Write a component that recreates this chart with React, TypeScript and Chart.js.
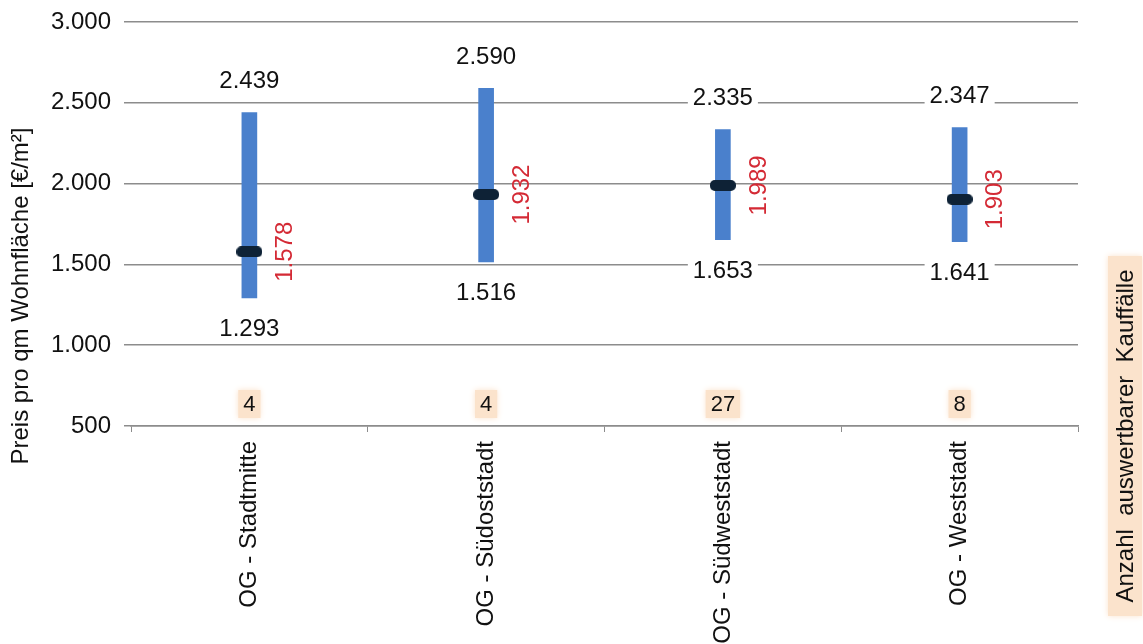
import React, { useEffect, useRef } from "react";
import { Chart, registerables } from "chart.js";

Chart.register(...registerables);

const categories = ["OG - Stadtmitte", "OG - Südoststadt", "OG - Südweststadt", "OG - Weststadt"];
const minValues = [1293, 1516, 1653, 1641];
const maxValues = [2439, 2590, 2335, 2347];
const medianValues = [1578, 1932, 1989, 1903];
const counts = [4, 4, 27, 8];
const yMin = 500;
const yMax = 3000;
const yStep = 500;
const yTitle = "Preis pro qm Wohnfläche [€/m²]";
const rightTitle = "Anzahl  auswertbarer  Kauffälle";

const FONT = "'Liberation Sans', Arial, sans-serif";
const FS = 24;
const BAR_COLOR = "#4a80cc";
const MEDIAN_COLOR = "#0e2236";
const RED = "#d42a35";
const PEACH = "#fbe3cc";
const GRID = "#8c8c8c";

function fmt(n: number): string {
  const s = String(Math.round(n));
  if (s.length <= 3) return s;
  return s.slice(0, s.length - 3) + "." + s.slice(s.length - 3);
}

function makeMarker(): HTMLCanvasElement {
  const c = document.createElement("canvas");
  c.width = 26;
  c.height = 11;
  const ctx = c.getContext("2d")!;
  ctx.fillStyle = MEDIAN_COLOR;
  const r = 5;
  ctx.beginPath();
  ctx.moveTo(r, 0);
  ctx.lineTo(26 - r, 0);
  ctx.arcTo(26, 0, 26, r, r);
  ctx.lineTo(26, 11 - r);
  ctx.arcTo(26, 11, 26 - r, 11, r);
  ctx.lineTo(r, 11);
  ctx.arcTo(0, 11, 0, 11 - r, r);
  ctx.lineTo(0, r);
  ctx.arcTo(0, 0, r, 0, r);
  ctx.closePath();
  ctx.fill();
  return c;
}

const labelsPlugin = {
  id: "customLabels",
  afterDatasetsDraw(chart: any) {
    const ctx = chart.ctx as CanvasRenderingContext2D;
    const x = chart.scales.x;
    const y = chart.scales.y;
    const area = chart.chartArea;
    ctx.save();
    ctx.font = `${FS}px ${FONT}`;
    ctx.textAlign = "center";
    ctx.textBaseline = "middle";
    categories.forEach((_, i) => {
      const cx = x.getPixelForValue(i);
      // max label
      const topY = y.getPixelForValue(maxValues[i]) - 32;
      const tMax = fmt(maxValues[i]);
      let w = ctx.measureText(tMax).width;
      ctx.fillStyle = "#ffffff";
      ctx.fillRect(cx - w / 2 - 5, topY - 13, w + 10, 26);
      ctx.fillStyle = "#111111";
      ctx.fillText(tMax, cx, topY + 1);
      // min label
      const botY = y.getPixelForValue(minValues[i]) + 31;
      const tMin = fmt(minValues[i]);
      w = ctx.measureText(tMin).width;
      ctx.fillStyle = "#ffffff";
      ctx.fillRect(cx - w / 2 - 5, botY - 13, w + 10, 26);
      ctx.fillStyle = "#111111";
      ctx.fillText(tMin, cx, botY + 1);
      // median label rotated
      const my = y.getPixelForValue(medianValues[i]);
      ctx.save();
      ctx.translate(cx + 36, my);
      ctx.rotate(-Math.PI / 2);
      ctx.fillStyle = RED;
      ctx.fillText(fmt(medianValues[i]), 0, 0);
      ctx.restore();
      // count boxes
      const cy = area.bottom - 22;
      ctx.font = `22px ${FONT}`;
      const tc = String(counts[i]);
      const cw = ctx.measureText(tc).width;
      ctx.save();
      ctx.fillStyle = PEACH;
      ctx.shadowColor = PEACH;
      ctx.shadowBlur = 6;
      ctx.fillRect(cx - cw / 2 - 5, cy - 14, cw + 10, 28);
      ctx.restore();
      ctx.fillStyle = "#111111";
      ctx.fillText(tc, cx, cy + 1);
      ctx.font = `${FS}px ${FONT}`;
    });
    // y-axis title
    ctx.save();
    ctx.translate(21, 296);
    ctx.rotate(-Math.PI / 2);
    ctx.fillStyle = "#111111";
    ctx.fillText(yTitle, 0, 0);
    ctx.restore();
    // right title with peach background
    ctx.save();
    ctx.fillStyle = PEACH;
    ctx.shadowColor = PEACH;
    ctx.shadowBlur = 6;
    ctx.fillRect(1108, 256, 34, 360);
    ctx.restore();
    ctx.save();
    ctx.translate(1126, 436);
    ctx.rotate(-Math.PI / 2);
    ctx.fillStyle = "#111111";
    ctx.fillText(rightTitle, 0, 0);
    ctx.restore();
    ctx.restore();
  },
};

export default function App() {
  const ref = useRef<HTMLCanvasElement | null>(null);
  useEffect(() => {
    if (!ref.current) return;
    const marker = makeMarker();
    const chart = new Chart(ref.current, {
      type: "bar",
      data: {
        labels: categories,
        datasets: [
          {
            type: "bar",
            label: "Spanne",
            data: minValues.map((v, i) => [v, maxValues[i]]) as any,
            backgroundColor: BAR_COLOR,
            borderWidth: 0,
            barThickness: 15,
            order: 2,
          },
          {
            type: "line",
            label: "Median",
            data: medianValues,
            showLine: false,
            pointStyle: marker as any,
            pointRadius: 6,
            order: 1,
          } as any,
        ],
      },
      options: {
        animation: false,
        responsive: true,
        maintainAspectRatio: false,
        layout: { padding: { top: 22, right: 65, left: 1, bottom: 0 } },
        plugins: {
          legend: { display: false },
          tooltip: { enabled: false },
        },
        scales: {
          x: {
            type: "category",
            offset: true,
            grid: {
              display: true,
              drawOnChartArea: false,
              drawTicks: true,
              tickLength: 6,
              color: GRID,
              offset: true,
              lineWidth: 1,
            },
            border: { display: true, color: GRID, width: 1.5 },
            ticks: {
              minRotation: 90,
              maxRotation: 90,
              autoSkip: false,
              padding: 9,
              color: "#111111",
              font: { family: FONT, size: FS },
            },
            afterFit: (scale: any) => {
              scale.height = 218;
            },
          },
          y: {
            min: yMin,
            max: yMax,
            grid: {
              color: GRID,
              lineWidth: 1.5,
              drawTicks: true,
              tickLength: 7,
            },
            border: { display: false },
            ticks: {
              stepSize: yStep,
              padding: 13,
              color: "#111111",
              font: { family: FONT, size: FS },
              callback: (v: any) => fmt(Number(v)),
            },
            afterFit: (scale: any) => {
              scale.width = 130;
              scale.paddingTop = 0;
              scale.paddingBottom = 0;
            },
          },
        },
      },
      plugins: [labelsPlugin],
    });
    return () => chart.destroy();
  }, []);
  return (
    <div style={{ position: "fixed", left: 0, top: 0, width: 1143, height: 644, background: "#fff" }}>
      <canvas ref={ref} />
    </div>
  );
}
